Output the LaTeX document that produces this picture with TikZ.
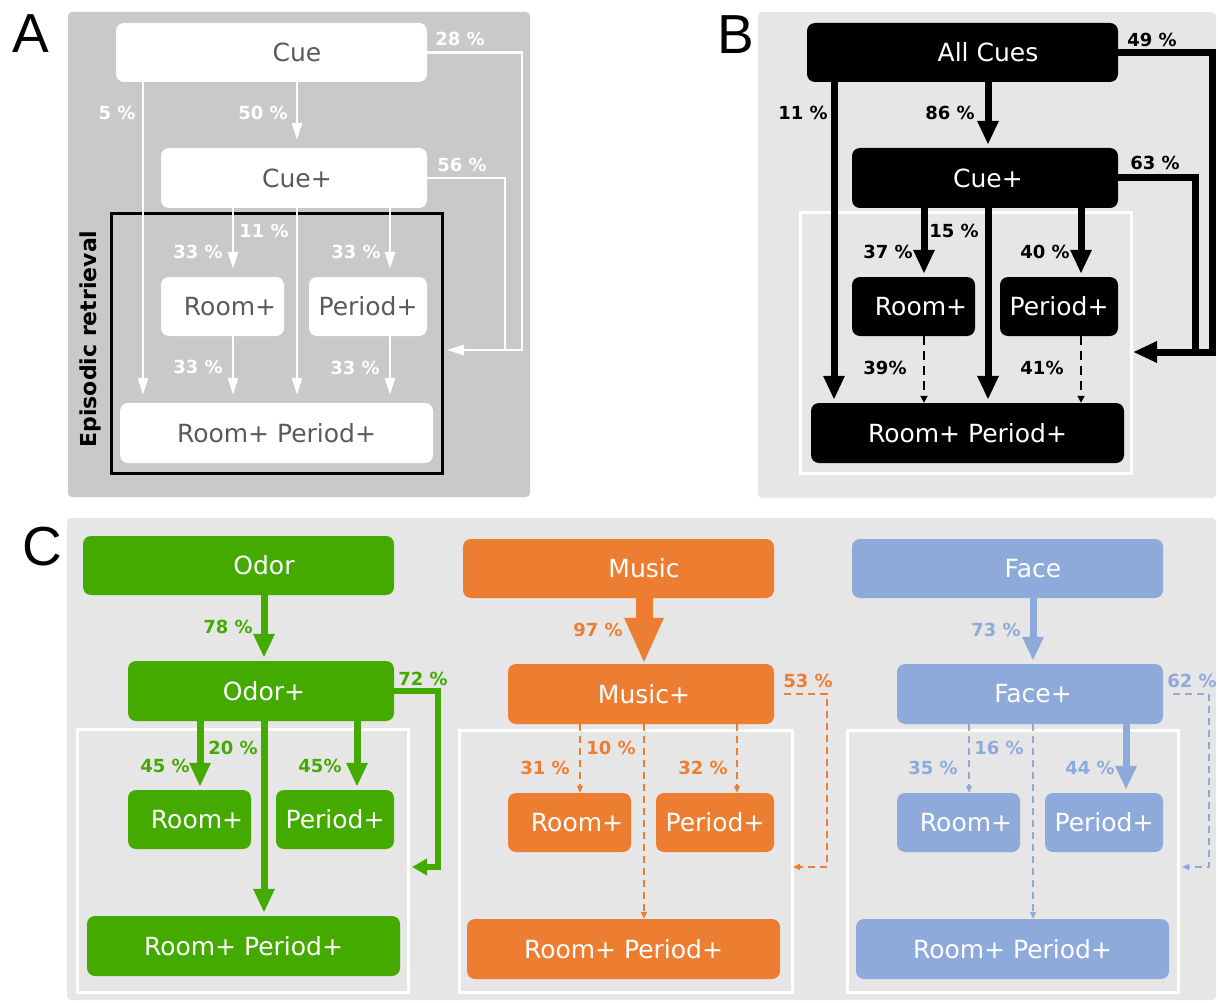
\documentclass[tikz,border=0pt]{standalone}
\usepackage{fontspec}
\setmainfont{DejaVu Sans}
\newfontfamily\letterfont{Liberation Sans}
\usetikzlibrary{calc,positioning,arrows.meta}

\definecolor{bgdark}{RGB}{201,201,201}
\definecolor{bglight}{RGB}{230,230,230}
\definecolor{textgray}{RGB}{90,90,90}
\definecolor{odorgreen}{RGB}{68,170,0}
\definecolor{musicorange}{RGB}{237,125,49}
\definecolor{faceblue}{RGB}{142,170,219}

\tikzset{
	box/.style={rounded corners=8,inner sep=0},
	topbox/.style={box,minimum width=311,minimum height=59},
	plusbox/.style={box,minimum width=266,minimum height=60},
	roombox/.style={box,minimum width=123,minimum height=59},
	perbox/.style={box,minimum width=118,minimum height=59},
	bothbox/.style={box,minimum width=313,minimum height=60},
	boxtext/.style={inner sep=0,font={\fontsize{25}{30}\selectfont}},
	pct/.style={inner sep=0,font={\fontsize{18}{21}\selectfont\bfseries}},
	letter/.style={anchor=base,inner sep=0,font={\letterfont\fontsize{55}{60}\selectfont}},
	thinarrow/.style={line width=2.5,-{Triangle[width=10,length=17]},shorten >=8},
	fatarrow/.style={line width=7,-{Triangle[width=20,length=24]},shorten >=3},
	hugearrow/.style={line width=17,-{Triangle[width=36,length=46]}},
	dasharrow/.style={line width=2.5,dash pattern=on 9 off 6,-{Triangle[width=7,length=7]}},
	dotarrow/.style={line width=2,dash pattern=on 7 off 5,-{Triangle[width=6,length=7]}},
}

\begin{document}
\begin{tikzpicture}[x=1pt,y=-1pt]
				%\draw[color=gray,step=10, help lines,opacity=0.3] (0,0) grid (1218,1003); %help grids
				\useasboundingbox (0,0) rectangle (1218,1003);
				\fill[bgdark,rounded corners=4] (68,12) rectangle (530,497);
				\fill[bglight,rounded corners=4] (758,12) rectangle (1216,498);
				\fill[bglight,rounded corners=4] (67,518) rectangle (1216,1000);
				\node[letter] (letA) at (31,53) {A};
				\node[letter] (letB) at (736,54) {B};
				\node[letter] (letC) at (42,565) {C};

				% A
				\begin{scope}
				\coordinate (colL) at (143,0);
				\coordinate (colR) at (233,0);
				\coordinate (colM) at (297,0);
				\coordinate (colP) at (390,0);
				\draw[line width=3] (111,214) rectangle (442,473);
				\node[rotate=90,inner sep=0,font={\fontsize{22}{26}\selectfont\bfseries}] (epiA) at (90,339) {Episodic retrieval};
				\node[topbox,fill=white] (cueA) at (271.5,52.5) {};
				\node[plusbox,fill=white] (cueplusA) at (294,178) {};
				\node[roombox,fill=white] (roomA) at (222.5,306.5) {};
				\node[perbox,fill=white,text=textgray,font={\fontsize{25}{30}\selectfont}] (periodA) at (368,306.5) {Period+};
				\node[bothbox,fill=white,text=textgray,font={\fontsize{25}{30}\selectfont}] (bothA) at (276.5,433) {Room+ Period+};
				\node[boxtext,text=textgray] (cueA-t) at (cueA.center -| colM) {Cue};
				\node[boxtext,text=textgray] (cueplusA-t) at (cueplusA.center -| colM) {Cue+};
				\node[boxtext,text=textgray] (roomA-t) at ([xshift=-3]roomA.center -| colR) {Room+};
				\draw[thinarrow,white] (cueA.south -| colL) -- (bothA.north -| colL);
				\draw[thinarrow,white] (cueA.south -| colM) -- (cueplusA.north -| colM);
				\draw[thinarrow,white] (cueplusA.south -| colR) -- (roomA.north -| colR);
				\draw[thinarrow,white] (cueplusA.south -| colM) -- (bothA.north -| colM);
				\draw[thinarrow,white] (cueplusA.south -| colP) -- (periodA.north -| colP);
				\draw[thinarrow,white] (roomA.south -| colR) -- (bothA.north -| colR);
				\draw[thinarrow,white] (periodA.south -| colP) -- (bothA.north -| colP);
				\coordinate (fbout) at (522,350);
				\coordinate (fbin) at (505,350);
				\coordinate (fbtip) at (447,350);
				\draw[thinarrow,white,shorten >=0] (cueA.east) -| (fbout) -- (fbtip);
				\draw[white,line width=2.5] (cueplusA.east) -| (fbin);
				\node[pct,text=white] (p5A) at (117,113) {5 \%};
				\node[pct,text=white] (p50A) at (263,113) {50 \%};
				\node[pct,text=white] (p28A) at (460,39) {28 \%};
				\node[pct,text=white] (p56A) at (462,165) {56 \%};
				\node[pct,text=white] (p33rA) at (198,252) {33 \%};
				\node[pct,text=white] (p11A) at (264,231) {11 \%};
				\node[pct,text=white] (p33pA) at (356,252) {33 \%};
				\node[pct,text=white] (p33rbA) at (198,367) {33 \%};
				\node[pct,text=white] (p33pbA) at (355,368) {33 \%};
				\end{scope}

				% B
				\begin{scope}[shift={(691,0)}]
				\coordinate (colL) at (143,0);
				\coordinate (colR) at (233,0);
				\coordinate (colM) at (297,0);
				\coordinate (colP) at (390,0);
				\draw[white,line width=3] (109,213) rectangle (440,473);
				\node[topbox,fill=black] (allB) at (271.5,52.5) {};
				\node[plusbox,fill=black] (cueplusB) at (294,178) {};
				\node[roombox,fill=black] (roomB) at (222.5,306.5) {};
				\node[perbox,fill=black,text=white,font={\fontsize{25}{30}\selectfont}] (periodB) at (368,306.5) {Period+};
				\node[bothbox,fill=black,text=white,font={\fontsize{25}{30}\selectfont}] (bothB) at (276.5,433) {Room+ Period+};
				\node[boxtext,text=white] (allB-t) at (allB.center -| colM) {All Cues};
				\node[boxtext,text=white] (cueplusB-t) at (cueplusB.center -| colM) {Cue+};
				\node[boxtext,text=white] (roomB-t) at ([xshift=-3]roomB.center -| colR) {Room+};
				\draw[fatarrow] (allB.south -| colL) -- (bothB.north -| colL);
				\draw[fatarrow] (allB.south -| colM) -- (cueplusB.north -| colM);
				\draw[fatarrow] (cueplusB.south -| colR) -- (roomB.north -| colR);
				\draw[fatarrow] (cueplusB.south -| colM) -- (bothB.north -| colM);
				\draw[fatarrow] (cueplusB.south -| colP) -- (periodB.north -| colP);
				\draw[dasharrow] (roomB.south -| colR) -- (bothB.north -| colR);
				\draw[dasharrow] (periodB.south -| colP) -- (bothB.north -| colP);
				\coordinate (fbout) at (521,352);
				\coordinate (fbin) at (504,352);
				\coordinate (fbtip) at (442,352);
				\draw[fatarrow,shorten >=0] (allB.east) -| (fbout) -- (fbtip);
				\draw[line width=7] (cueplusB.east) -| (fbin);
				\node[pct] (p11B) at (112,113) {11 \%};
				\node[pct] (p86B) at (259,113) {86 \%};
				\node[pct] (p49B) at (461,40) {49 \%};
				\node[pct] (p63B) at (464,163) {63 \%};
				\node[pct] (p37B) at (197,252) {37 \%};
				\node[pct] (p15B) at (263,231) {15 \%};
				\node[pct] (p40B) at (354,252) {40 \%};
				\node[pct] (p39B) at (194,368) {39\%};
				\node[pct] (p41B) at (351,368) {41\%};
				\end{scope}

				% C, odor
				\begin{scope}[shift={(-33,513)}]
				\coordinate (colR) at (233,0);
				\coordinate (colM) at (297,0);
				\coordinate (colP) at (390,0);
				\draw[white,line width=3] (110,216) rectangle (441,479);
				\node[topbox,fill=odorgreen] (odor) at (271.5,52.5) {};
				\node[plusbox,fill=odorgreen] (odorplus) at (294,178) {};
				\node[roombox,fill=odorgreen] (roomO) at (222.5,306.5) {};
				\node[perbox,fill=odorgreen,text=white,font={\fontsize{25}{30}\selectfont}] (periodO) at (368,306.5) {Period+};
				\node[bothbox,fill=odorgreen,text=white,font={\fontsize{25}{30}\selectfont}] (bothO) at (276.5,433) {Room+ Period+};
				\node[boxtext,text=white] (odor-t) at (odor.center -| colM) {Odor};
				\node[boxtext,text=white] (odorplus-t) at (odorplus.center -| colM) {Odor+};
				\node[boxtext,text=white] (roomO-t) at ([xshift=-3]roomO.center -| colR) {Room+};
				\draw[fatarrow,odorgreen] (odor.south -| colM) -- (odorplus.north -| colM);
				\draw[fatarrow,odorgreen] (odorplus.south -| colR) -- (roomO.north -| colR);
				\draw[fatarrow,odorgreen] (odorplus.south -| colM) -- (bothO.north -| colM);
				\draw[fatarrow,odorgreen] (odorplus.south -| colP) -- (periodO.north -| colP);
				\coordinate (fbout) at (471,354);
				\coordinate (fbtip) at (445,354);
				\draw[odorgreen,line width=6,-{Triangle[width=16,length=15]}] (odorplus.east) -| (fbout) -- (fbtip);
				\node[pct,text=odorgreen] (p78O) at (261,114) {78 \%};
				\node[pct,text=odorgreen] (p72O) at (456,166) {72 \%};
				\node[pct,text=odorgreen] (p45rO) at (198,253) {45 \%};
				\node[pct,text=odorgreen] (p20O) at (266,235) {20 \%};
				\node[pct,text=odorgreen] (p45pO) at (353,253) {45\%};
				\end{scope}

				% C, music
				\begin{scope}[shift={(347,516)}]
				\coordinate (colR) at (233,0);
				\coordinate (colM) at (297,0);
				\coordinate (colP) at (390,0);
				\draw[white,line width=3] (112,214) rectangle (445,476);
				\node[topbox,fill=musicorange] (music) at (271.5,52.5) {};
				\node[plusbox,fill=musicorange] (musicplus) at (294,178) {};
				\node[roombox,fill=musicorange] (roomM) at (222.5,306.5) {};
				\node[perbox,fill=musicorange,text=white,font={\fontsize{25}{30}\selectfont}] (periodM) at (368,306.5) {Period+};
				\node[bothbox,fill=musicorange,text=white,font={\fontsize{25}{30}\selectfont}] (bothM) at (276.5,433) {Room+ Period+};
				\node[boxtext,text=white] (music-t) at (music.center -| colM) {Music};
				\node[boxtext,text=white] (musicplus-t) at (musicplus.center -| colM) {Music+};
				\node[boxtext,text=white] (roomM-t) at ([xshift=-3]roomM.center -| colR) {Room+};
				\draw[hugearrow,musicorange] (music.south -| colM) -- (musicplus.north -| colM);
				\draw[dotarrow,musicorange] (musicplus.south -| colR) -- (roomM.north -| colR);
				\draw[dotarrow,musicorange] (musicplus.south -| colM) -- (bothM.north -| colM);
				\draw[dotarrow,musicorange] (musicplus.south -| colP) -- (periodM.north -| colP);
				\coordinate (fbout) at (480,351);
				\coordinate (fbtip) at (446,351);
				\draw[dotarrow,musicorange] ([xshift=10]musicplus.east) -| (fbout) -- (fbtip);
				\node[pct,text=musicorange] (p97M) at (251,114) {97 \%};
				\node[pct,text=musicorange] (p53M) at (461,165) {53 \%};
				\node[pct,text=musicorange] (p31M) at (198,252) {31 \%};
				\node[pct,text=musicorange] (p10M) at (264,232) {10 \%};
				\node[pct,text=musicorange] (p32M) at (356,252) {32 \%};
				\end{scope}

				% C, face
				\begin{scope}[shift={(736,516)}]
				\coordinate (colR) at (233,0);
				\coordinate (colM) at (297,0);
				\coordinate (colP) at (390,0);
				\draw[white,line width=3] (111,214) rectangle (442,476);
				\node[topbox,fill=faceblue] (face) at (271.5,52.5) {};
				\node[plusbox,fill=faceblue] (faceplus) at (294,178) {};
				\node[roombox,fill=faceblue] (roomF) at (222.5,306.5) {};
				\node[perbox,fill=faceblue,text=white,font={\fontsize{25}{30}\selectfont}] (periodF) at (368,306.5) {Period+};
				\node[bothbox,fill=faceblue,text=white,font={\fontsize{25}{30}\selectfont}] (bothF) at (276.5,433) {Room+ Period+};
				\node[boxtext,text=white] (face-t) at (face.center -| colM) {Face};
				\node[boxtext,text=white] (faceplus-t) at (faceplus.center -| colM) {Face+};
				\node[boxtext,text=white] (roomF-t) at ([xshift=-3]roomF.center -| colR) {Room+};
				\draw[fatarrow,faceblue] (face.south -| colM) -- (faceplus.north -| colM);
				\draw[dotarrow,faceblue] (faceplus.south -| colR) -- (roomF.north -| colR);
				\draw[dotarrow,faceblue] (faceplus.south -| colM) -- (bothF.north -| colM);
				\draw[fatarrow,faceblue] (faceplus.south -| colP) -- (periodF.north -| colP);
				\coordinate (fbout) at (473,351);
				\coordinate (fbtip) at (446,351);
				\draw[dotarrow,faceblue] ([xshift=10]faceplus.east) -| (fbout) -- (fbtip);
				\node[pct,text=faceblue] (p73F) at (260,114) {73 \%};
				\node[pct,text=faceblue] (p62F) at (456,165) {62 \%};
				\node[pct,text=faceblue] (p35F) at (197,252) {35 \%};
				\node[pct,text=faceblue] (p16F) at (263,232) {16 \%};
				\node[pct,text=faceblue] (p44F) at (354,252) {44 \%};
				\end{scope}
\end{tikzpicture}
\end{document}
